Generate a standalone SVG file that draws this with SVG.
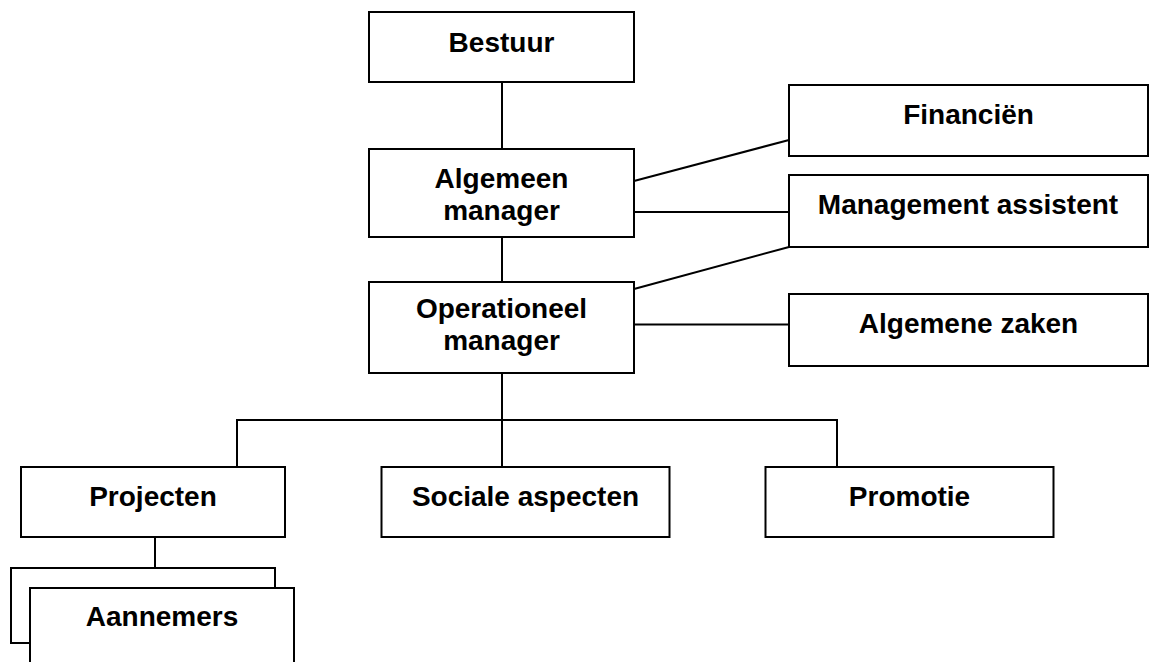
<svg xmlns="http://www.w3.org/2000/svg" width="1149" height="662" viewBox="0 0 1149 662">
<style>
.box{fill:#fff;stroke:#000;stroke-width:2}
.lbl{font-family:"Liberation Sans",Arial,sans-serif;font-weight:bold;font-size:28px;fill:#000;text-anchor:middle}
.con line,.con polyline{stroke:#000;stroke-width:2;fill:none}
</style>
<rect width="1149" height="662" fill="#fff"/>
<g id="connectors" class="con">
<line x1="502" y1="82" x2="502" y2="149"/>
<line x1="502" y1="237" x2="502" y2="282"/>
<line x1="634" y1="181" x2="789" y2="140"/>
<line x1="634" y1="212" x2="789" y2="212"/>
<line x1="634" y1="289" x2="789" y2="247"/>
<line x1="634" y1="324.5" x2="789" y2="324.5"/>
<line x1="502" y1="373" x2="502" y2="467"/>
<polyline points="237,467 237,420 837,420 837,467"/>
<line x1="155" y1="537" x2="155" y2="568"/>
</g>
<g id="bestuur"><rect class="box" x="369" y="12" width="265" height="70"/><text class="lbl" x="501.5" y="52">Bestuur</text></g>
<g id="algemeen-manager"><rect class="box" x="369" y="149" width="265" height="88"/><text class="lbl" x="501.5" y="188">Algemeen</text><text class="lbl" x="501.5" y="220">manager</text></g>
<g id="operationeel-manager"><rect class="box" x="369" y="282" width="265" height="91"/><text class="lbl" x="501.5" y="318">Operationeel</text><text class="lbl" x="501.5" y="350">manager</text></g>
<g id="financien"><rect class="box" x="789" y="85" width="359" height="71"/><text class="lbl" x="968.5" y="123.5">Financiën</text></g>
<g id="management-assistent"><rect class="box" x="789" y="175" width="359" height="72"/><text class="lbl" x="968" y="214">Management assistent</text></g>
<g id="algemene-zaken"><rect class="box" x="789" y="294" width="359" height="72"/><text class="lbl" x="968.5" y="333">Algemene zaken</text></g>
<g id="projecten"><rect class="box" x="21" y="467" width="264" height="70"/><text class="lbl" x="153" y="506">Projecten</text></g>
<g id="sociale-aspecten"><rect class="box" x="381.5" y="467" width="288" height="70"/><text class="lbl" x="525.5" y="506">Sociale aspecten</text></g>
<g id="promotie"><rect class="box" x="765.5" y="467" width="288" height="70"/><text class="lbl" x="909.5" y="506">Promotie</text></g>
<g id="aannemers"><rect class="box" x="11" y="568" width="264" height="75"/><rect class="box" x="30" y="588" width="264" height="90"/><text class="lbl" x="162" y="626">Aannemers</text></g>
</svg>
